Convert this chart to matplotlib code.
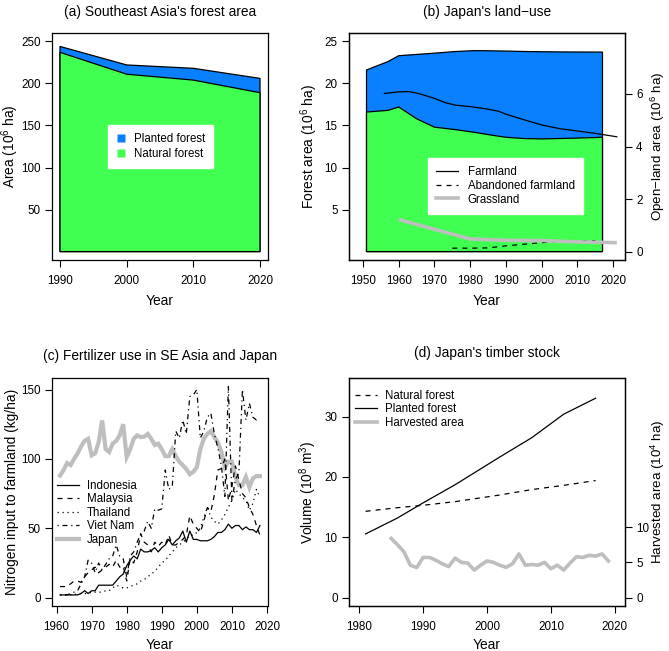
import matplotlib
matplotlib.use("Agg")
import matplotlib.pyplot as plt
from matplotlib.lines import Line2D

plt.rcParams['font.family'] = ['Liberation Sans', 'DejaVu Sans']
plt.rcParams['mathtext.fontset'] = 'custom'
plt.rcParams['mathtext.rm'] = 'Liberation Sans'
plt.rcParams['mathtext.it'] = 'Liberation Sans:italic'
plt.rcParams['axes.linewidth'] = 0.9
plt.rcParams['xtick.major.width'] = 0.8
plt.rcParams['ytick.major.width'] = 0.8

BLUE = "#0A80FF"
GREEN = "#40FF50"
GRAY = "#BEBEBE"

# ---------------- (a) Southeast Asia's forest area ----------------
a_years = [1990, 2000, 2010, 2020]
a_total = [244, 222, 218, 206]
a_natural = [237, 211, 204, 189]

# ---------------- (b) Japan's land-use ----------------
b_forest_years = [1951, 1957, 1960, 1965, 1970, 1976, 1981, 1986, 1990, 1995, 2000, 2005, 2010, 2017]
b_forest_total = [21.6, 22.6, 23.3, 23.45, 23.6, 23.8, 23.9, 23.88, 23.85, 23.8, 23.77, 23.75, 23.74, 23.73]
b_forest_natural = [16.6, 16.8, 17.2, 15.8, 14.8, 14.5, 14.2, 13.85, 13.6, 13.45, 13.4, 13.45, 13.5, 13.6]

b_farm_years = [1956, 1960, 1963, 1966, 1970, 1973, 1976, 1980, 1985, 1988, 1990, 1995, 2000, 2005, 2010, 2015, 2021]
b_farm = [6.02, 6.08, 6.09, 6.0, 5.83, 5.67, 5.57, 5.52, 5.42, 5.34, 5.23, 5.02, 4.82, 4.68, 4.59, 4.5, 4.37]

b_aband_years = [1975, 1980, 1985, 1990, 1995, 2000, 2005, 2010, 2015]
b_aband = [0.13, 0.13, 0.14, 0.22, 0.28, 0.34, 0.39, 0.40, 0.42]

b_grass_years = [1960, 1970, 1980, 1990, 2000, 2010, 2021]
b_grass = [1.22, 0.85, 0.48, 0.43, 0.42, 0.37, 0.34]

# ---------------- (c) Fertilizer use ----------------
c_years = list(range(1961, 2019))
c_indonesia = [2, 2, 2, 2, 2, 2, 3, 5, 3, 5, 5, 9, 9, 9, 9, 9, 12, 15, 17, 23,
               27, 30, 28, 35, 33, 33, 34, 36, 33, 36, 38, 42, 38, 41, 43, 48, 40, 48, 42, 42,
               41, 41, 41, 42, 44, 47, 47, 49, 53, 50, 52, 52, 49, 51, 49, 49, 47, 52]
c_malaysia = [8, 8, 8, 10, 12, 12, 11, 15, 18, 20, 22, 18, 20, 22, 24, 22, 27, 22, 23, 12,
              28, 25, 33, 46, 40, 38, 33, 40, 37, 40, 38, 45, 38, 38, 40, 42, 45, 59, 53, 50,
              47, 55, 65, 62, 74, 92, 93, 100, 70, 80, 95, 85, 75, 72, 65, 60, 52, 45]
c_thailand = [2, 2, 2, 2, 2, 3, 3, 3, 3, 4, 4, 4, 4, 5, 5, 7, 9, 8, 7, 7,
              8, 9, 10, 12, 13, 15, 17, 19, 22, 25, 27, 30, 33, 36, 38, 40, 42, 45, 45, 47,
              50, 58, 65, 58, 55, 53, 56, 60, 65, 70, 78, 75, 72, 70, 63, 68, 78, 72]
c_vietnam = [2, 2, 2, 3, 4, 5, 10, 15, 27, 25, 18, 25, 20, 24, 28, 30, 38, 30, 28, 15,
             30, 33, 40, 46, 48, 55, 50, 64, 63, 64, 92, 78, 80, 120, 115, 128, 118, 145, 146, 150,
             115, 120, 130, 133, 118, 108, 95, 73, 152, 70, 85, 90, 150, 128, 140, 130, 128, 129]
c_japan = [88, 92, 97, 95.5, 100, 104, 109, 113, 114.5, 102.6, 104, 112, 127.7, 107, 105, 111, 113, 117, 125, 101.4,
           107, 114.5, 117, 115.7, 116, 118, 114.5, 110, 111, 107, 102, 102, 107, 102, 98, 95.5, 92.6, 89, 90.7, 94,
           107, 114.5, 118, 120, 115.7, 112, 105, 94, 98, 98, 87, 81, 81, 87, 79.5, 86, 87.6, 87.6]

# ---------------- (d) Japan's timber stock ----------------
d_stock_years = [1981, 1986, 1990, 1995, 2002, 2007, 2012, 2017]
d_natural = [14.3, 14.9, 15.3, 15.9, 17.0, 17.9, 18.6, 19.4]
d_planted = [10.55, 13.2, 15.7, 18.7, 23.3, 26.5, 30.4, 33.05]
d_harv_years = list(range(1985, 2020))
d_harvest = [8.4, 7.5, 6.5, 4.6, 4.26, 5.7, 5.7, 5.3, 4.8, 4.4, 5.6, 5.0, 4.9, 3.9, 4.6, 5.2,
             5.0, 4.6, 4.3, 4.8, 6.2, 4.6, 4.7, 4.6, 5.0, 4.1, 4.6, 3.9, 4.9, 5.8, 5.7, 6.0,
             5.9, 6.2, 5.2]

W, H = 669, 651
fig = plt.figure(figsize=(W / 100, H / 100), dpi=100)


def axpos(l, r, t, b):
    return [l / W, 1 - b / H, (r - l) / W, (b - t) / H]


TICK_FS = 8.4
LAB_FS = 9.9
RLAB_FS = 9.6
TITLE_FS = 9.9
LEG_FS = 8.3


def style(ax):
    ax.tick_params(axis='both', direction='out', length=5, labelsize=TICK_FS, pad=3.2)
    ax.tick_params(axis='x', pad=5.5)


def closed_poly(xs, ys):
    px = [xs[0]] + list(xs) + [xs[-1]]
    py = [0] + list(ys) + [0]
    return px, py


def left_label(ax, text, x_px_right, ax_left, ax_w):
    ax.set_ylabel(text, fontsize=LAB_FS)
    ax.yaxis.set_label_coords((x_px_right - ax_left) / ax_w, 0.5)


def right_label(ax, text, x_px_left, ax_right, ax_w):
    ax.set_ylabel(text, fontsize=RLAB_FS)
    ax.yaxis.set_label_coords(1 + (x_px_left - ax_right) / ax_w, 0.5)


# ---- panel a
ax = fig.add_axes(axpos(52, 268, 33, 260))
px, py = closed_poly(a_years, a_total)
ax.fill(px, py, facecolor=BLUE, edgecolor='black', linewidth=0.9)
px, py = closed_poly(a_years, a_natural)
ax.fill(px, py, facecolor=GREEN, edgecolor='black', linewidth=0.9)
ax.set_xlim(1988.8, 2021.2)
ax.set_ylim(-10, 260)
ax.set_xticks([1990, 2000, 2010, 2020])
ax.set_yticks([50, 100, 150, 200, 250])
style(ax)
ax.set_xlabel("Year", fontsize=LAB_FS, labelpad=5)
left_label(ax, "Area (10$^6$ ha)", 21, 52, 216)
ax.set_title("(a) Southeast Asia's forest area", fontsize=TITLE_FS, pad=12)
handles = [Line2D([], [], marker='s', color='none', markerfacecolor=BLUE, markeredgecolor='none', markersize=5.5),
           Line2D([], [], marker='s', color='none', markerfacecolor=GREEN, markeredgecolor='none', markersize=5.5)]
ax.legend(handles, ["Planted forest", "Natural forest"], loc='center', fontsize=LEG_FS,
          frameon=True, fancybox=False, framealpha=1, edgecolor='white', facecolor='white',
          handlelength=1.0, handletextpad=0.6, borderpad=0.7, labelspacing=0.25,
          bbox_to_anchor=(0.502, 0.499))

# ---- panel b
ax = fig.add_axes(axpos(349, 625, 33, 260))
px, py = closed_poly(b_forest_years, b_forest_total)
ax.fill(px, py, facecolor=BLUE, edgecolor='black', linewidth=0.9)
px, py = closed_poly(b_forest_years, b_forest_natural)
ax.fill(px, py, facecolor=GREEN, edgecolor='black', linewidth=0.9)
ax.set_xlim(1946.1, 2023.3)
ax.set_ylim(-1, 26)
ax.set_xticks(list(range(1950, 2021, 10)))
ax.set_yticks([5, 10, 15, 20, 25])
style(ax)
ax.set_xlabel("Year", fontsize=LAB_FS, labelpad=5)
left_label(ax, "Forest area (10$^6$ ha)", 320, 349, 276)
ax.set_title("(b) Japan's land\u2212use", fontsize=TITLE_FS, pad=12)
ax2 = ax.twinx()
ax2.plot(b_farm_years, b_farm, color='black', lw=0.9)
ax2.plot(b_aband_years, b_aband, color='black', lw=0.9, linestyle=(0, (4, 4)))
ax2.plot(b_grass_years, b_grass, color=GRAY, lw=2.6, solid_capstyle='butt')
ax2.set_ylim(-0.32, 8.32)
ax2.set_yticks([0, 2, 4, 6])
style(ax2)
ax2.tick_params(axis='y', pad=3.0)
right_label(ax2, "Open\u2212land area (10$^6$ ha)", 649, 625, 276)
handles = [Line2D([], [], color='black', lw=0.9),
           Line2D([], [], color='black', lw=0.9, linestyle=(0, (4, 4))),
           Line2D([], [], color=GRAY, lw=2.6)]
ax2.legend(handles, ["Farmland", "Abandoned farmland", "Grassland"], loc='center',
           bbox_to_anchor=((505.5 - 349) / 276, 1 - (185.8 - 33) / 227), fontsize=LEG_FS,
           frameon=True, fancybox=False, framealpha=1, edgecolor='white', facecolor='white',
           handlelength=1.9, handletextpad=0.8, borderpad=0.7, labelspacing=0.15)

# ---- panel c
ax = fig.add_axes(axpos(52, 268, 378, 606))
ax.plot(c_years, c_japan, color=GRAY, lw=3.0, solid_joinstyle='miter')
ax.plot(c_years, c_indonesia, color='black', lw=0.9)
ax.plot(c_years, c_malaysia, color='black', lw=0.9, linestyle=(0, (4, 4)))
ax.plot(c_years, c_thailand, color='black', lw=0.9, linestyle=(0, (1, 3)))
ax.plot(c_years, c_vietnam, color='black', lw=0.9, linestyle=(0, (1, 3, 4, 3)))
ax.set_xlim(1958.7, 2020.3)
ax.set_ylim(-6, 158.3)
ax.set_xticks(list(range(1960, 2021, 10)))
ax.set_yticks([0, 50, 100, 150])
style(ax)
ax.set_xlabel("Year", fontsize=LAB_FS, labelpad=4)
left_label(ax, "Nitrogen input to farmland (kg/ha)", 19, 52, 216)
ax.set_title("(c) Fertilizer use in SE Asia and Japan", fontsize=TITLE_FS, pad=13)
handles = [Line2D([], [], color='black', lw=0.9),
           Line2D([], [], color='black', lw=0.9, linestyle=(0, (4, 4))),
           Line2D([], [], color='black', lw=0.9, linestyle=(0, (1, 3))),
           Line2D([], [], color='black', lw=0.9, linestyle=(0, (1, 3, 4, 3))),
           Line2D([], [], color=GRAY, lw=3.0)]
ax.legend(handles, ["Indonesia", "Malaysia", "Thailand", "Viet Nam", "Japan"], loc='upper left',
          bbox_to_anchor=(0.0, 1 - (475 - 378) / 228), fontsize=LEG_FS, frameon=False,
          handlelength=1.9, handletextpad=0.75, borderpad=0.2, labelspacing=0.13, borderaxespad=0.2)

# ---- panel d
ax = fig.add_axes(axpos(349, 625, 378, 606))
ax.plot(d_stock_years, d_natural, color='black', lw=0.9, linestyle=(0, (4, 4)))
ax.plot(d_stock_years, d_planted, color='black', lw=0.9)
ax.set_xlim(1978.4, 2021.6)
ax.set_ylim(-1.4, 36.4)
ax.set_xticks([1980, 1990, 2000, 2010, 2020])
ax.set_yticks([0, 10, 20, 30])
style(ax)
ax.set_xlabel("Year", fontsize=LAB_FS, labelpad=4)
left_label(ax, "Volume (10$^8$ m$^3$)", 319, 349, 276)
ax.set_title("(d) Japan's timber stock", fontsize=TITLE_FS, pad=15)
ax2 = ax.twinx()
ax2.plot(d_harv_years, d_harvest, color=GRAY, lw=2.6)
ax2.set_ylim(-1.2, 31.2)
ax2.set_yticks([0, 5, 10])
style(ax2)
ax2.tick_params(axis='y', pad=3.0)
right_label(ax2, "Harvested area (10$^4$ ha)", 649, 625, 276)
handles = [Line2D([], [], color='black', lw=0.9, linestyle=(0, (4, 4))),
           Line2D([], [], color='black', lw=0.9),
           Line2D([], [], color=GRAY, lw=2.6)]
ax2.legend(handles, ["Natural forest", "Planted forest", "Harvested area"], loc='upper left',
           bbox_to_anchor=(0.0, 1 - 6 / 228), fontsize=LEG_FS, frameon=False,
           handlelength=1.9, handletextpad=0.75, borderpad=0.2, labelspacing=0.13, borderaxespad=0.3)

fig.savefig("out.png", dpi=100)
